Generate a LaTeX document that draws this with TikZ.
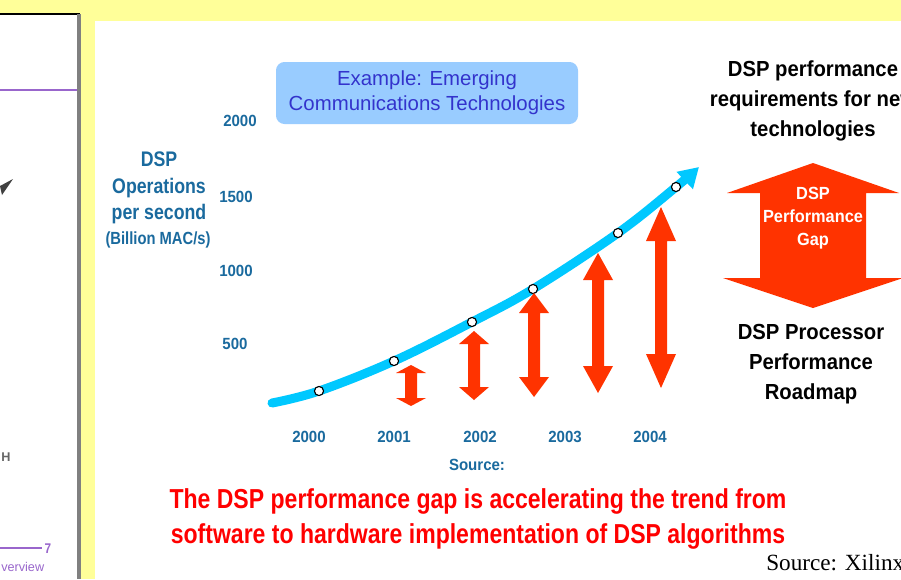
\documentclass[tikz,border=0pt]{standalone}
\usepackage{fontspec}
\setmainfont{Liberation Sans}
\newfontfamily\narrowfont[FakeStretch=0.84]{Liberation Sans}
\newfontfamily\midfont[FakeStretch=0.93]{Liberation Sans}
\newfontfamily\seriffont{Liberation Serif}
\usetikzlibrary{arrows.meta}

\definecolor{bgyellow}{HTML}{FFFF99}
\definecolor{axisblue}{HTML}{1A6A9E}
\definecolor{boxblue}{HTML}{99CCFF}
\definecolor{boxtext}{HTML}{3333CC}
\definecolor{trendcyan}{HTML}{00C8FF}
\definecolor{gapred}{HTML}{FF3300}
\definecolor{slidepurple}{HTML}{9966CC}

\tikzset{
  valuelabel/.style={font=\midfont\bfseries\fontsize{11.5}{13}\selectfont, text=axisblue, inner sep=0pt},
  yearlabel/.style={valuelabel},
  yeardot/.style={circle, draw=black, fill=white, line width=0.8pt, minimum size=6.5pt, inner sep=0pt},
  heading/.style={font=\midfont\bfseries\fontsize{15.5}{21.5}\selectfont, align=center, inner sep=0pt},
}

\begin{document}
\begin{tikzpicture}[x=0.025cm, y=0.025cm]
  \useasboundingbox (0,0) rectangle (901,-579);
  % backgrounds
  \fill [bgyellow] (0,0) rectangle (901,-579);
  \fill [white] (95,-21) rectangle (901,-579);
  \fill [white] (0,-14) rectangle (78,-579);
  \draw [black, line width=1.4pt] (0,-14) -- (80,-14);
  \draw [gray, line width=2.4pt] (79,-14) -- (79,-579);
  \draw [slidepurple, line width=1.6pt] (0,-90) -- (77,-90);
  % pieces of the previous slide
  \fill [black!75] (0,-186) -- (13,-179) -- (2,-195) -- cycle;
  \node [text=black!60, font=\bfseries\fontsize{9}{9}\selectfont, inner sep=0pt, anchor=west] (oldh) at (1,-457) {H};
  \draw [slidepurple, line width=1.2pt] (0,-548) -- (42,-548);
  \node [text=slidepurple, font=\narrowfont\bfseries\fontsize{10}{10}\selectfont, inner sep=0pt] (oldnum) at (48,-549) {7};
  \node [text=slidepurple, font=\fontsize{9}{9}\selectfont, anchor=west, inner sep=0pt] (oldtitle) at (1,-567) {verview};

  % title box
  \node [fill=boxblue, rounded corners=6pt, minimum width=302*0.025cm, minimum height=62*0.025cm,
         text=boxtext, align=center, font=\fontsize{14.5}{17.5}\selectfont] (example) at (427,-93)
        {Example: Emerging\\Communications Technologies};

  % axis
  \node [font=\narrowfont\bfseries\fontsize{15}{19}\selectfont, text=axisblue, align=center, inner sep=0pt] (ylabel) at (159,-188)
        {DSP\\Operations\\per second};
  \node [font=\narrowfont\bfseries\fontsize{12.5}{13}\selectfont, text=axisblue, inner sep=0pt] (yunit) at (158,-240) {(Billion MAC/s)};
  \node [valuelabel] (v2000) at (240,-121) {2000};
  \node [valuelabel] (v1500) at (236,-197) {1500};
  \node [valuelabel] (v1000) at (236,-271) {1000};
  \node [valuelabel] (v500) at (235,-344) {500};
  \node [yearlabel] (y2000) at (309,-437) {2000};
  \node [yearlabel] (y2001) at (394,-437) {2001};
  \node [yearlabel] (y2002) at (480,-437) {2002};
  \node [yearlabel] (y2003) at (565,-437) {2003};
  \node [yearlabel] (y2004) at (650,-437) {2004};
  \node [yearlabel] (source) at (477,-465) {Source:};

  % trend
  \coordinate (c0) at (272,-403);
  \coordinate (c1) at (319,-391);
  \coordinate (c2) at (394,-361);
  \coordinate (c3) at (472,-322);
  \coordinate (c4) at (533,-289);
  \coordinate (c5) at (618,-233);
  \coordinate (c6) at (676,-187);
  \coordinate (c7) at (699,-167);
  \draw [trendcyan, line width=6.4pt, line cap=round, -{Triangle[length=14pt,width=16pt]}]
        plot [smooth, tension=0.6] coordinates {(c0) (c1) (c2) (c3) (c4) (c5) (c6) (c7)};
  \foreach \i in {1,...,6}
    \node [yeardot] (d\i) at (c\i) {};

  % gap arrows
  \foreach \x/\t/\b/\h in {411/365/406/8, 474/331/400/13, 534/293/397/20, 598/253/393/27, 661/207/388/34}
    \fill [gapred] (\x,-\t) -- (\x+15,-\t-\h) -- (\x+6,-\t-\h) -- (\x+6,-\b+\h) -- (\x+15,-\b+\h)
          -- (\x,-\b) -- (\x-15,-\b+\h) -- (\x-6,-\b+\h) -- (\x-6,-\t-\h) -- (\x-15,-\t-\h) -- cycle;

  % right column
  \node [heading] (need) at (813,-101) {DSP performance\\requirements for new\\technologies};
  \fill [gapred] (813,-163) -- (899,-193) -- (866,-193) -- (866,-278) -- (903,-278) -- (813,-308)
        -- (723,-278) -- (760,-278) -- (760,-193) -- (727,-193) -- cycle;
  \node [text=white, align=center, inner sep=0pt, font=\midfont\bfseries\fontsize{12.5}{16.5}\selectfont] (gap) at (813,-218)
        {DSP\\Performance\\Gap};
  \node [heading] (roadmap) at (811,-364) {DSP Processor\\Performance\\Roadmap};

  % bottom
  \node [text=red, align=center, inner sep=0pt, font=\narrowfont\bfseries\fontsize{19.5}{25.5}\selectfont] (claim) at (478,-519)
        {The DSP performance gap is accelerating the trend from\\software to hardware implementation of DSP algorithms};
  \node [anchor=west, inner sep=0pt, font=\seriffont\fontsize{16.5}{16.5}\selectfont] (credit) at (766,-563) {Source: Xilinx};
\end{tikzpicture}
\end{document}
